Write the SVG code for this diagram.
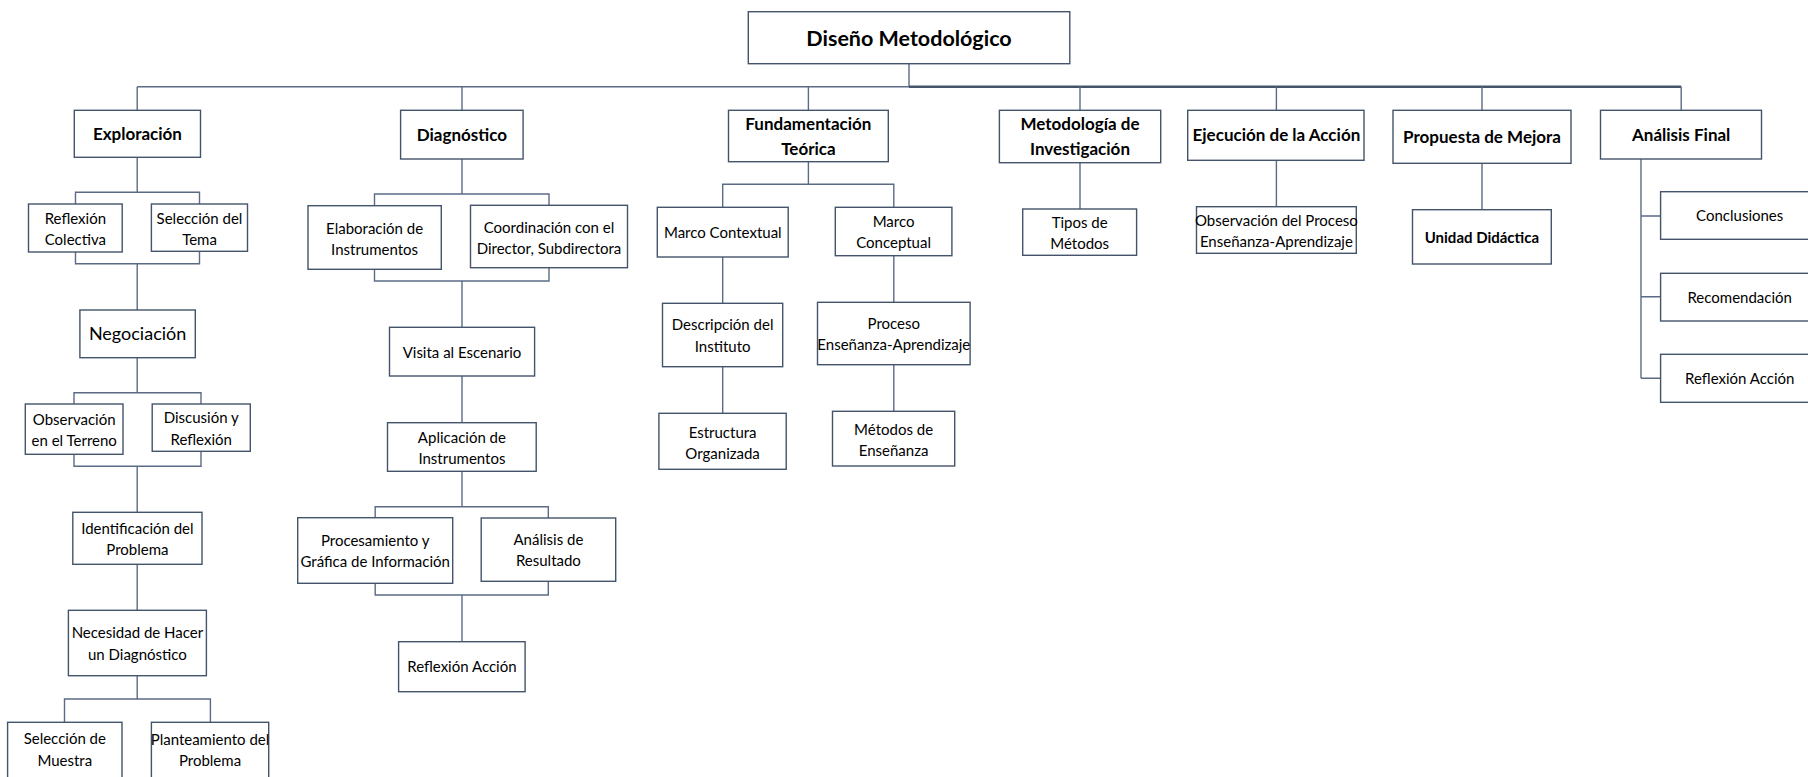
<svg xmlns="http://www.w3.org/2000/svg" width="1808" height="777" viewBox="0 0 1808 777">
<style>
.box{fill:#ffffff;stroke:#44546A;stroke-width:1.4}
.c{fill:none;stroke:#5B6B86;stroke-width:1.4}
.ct{fill:none;stroke:#44546A;stroke-width:2.6}
text{font-family:Lato,"Liberation Sans",sans-serif;fill:#000;text-anchor:middle}
.t{font-size:15px}
.h{font-size:17px;font-weight:bold}
.ti{font-size:21.5px;font-weight:bold}
.n{font-size:18px}
.b{font-size:15px;font-weight:bold}
</style>
<g id="connectors">
<path class="c" d="M909 64V86.7M137.2 86.7H909M137.2 86.7V110M462 86.7V110M808.4 86.7V110"/>
<path class="ct" d="M909 86.7H1681.2"/>
<path class="c" d="M1080 86.7V110M1276.4 86.7V110M1482 86.7V110M1681.2 86.7V110"/>
<path class="c" d="M137.2 157V192.3M75.5 204V192.3H199.5V204M75.5 252V263.7H199.5V251M137.2 263.7V310M137.2 358V392.7M74 404V392.7H201V404M74 454V466.3H201V451M137.2 466.3V512M137.2 564V610M137.2 676V699M64.5 722V699H210.4V722"/>
<path class="c" d="M462 159V194M374.5 205.5V194H549V205.5M374.5 269.5V281H549V267.5M462 281V327M462 376V422.7M462 471.7V506.7M375.2 517.7V506.7H548.3V518M375.2 583.3V595H548.3V581.3M462 595V641.7"/>
<path class="c" d="M808.4 162V184.3M722.7 207.3V184.3H893.8V207.3M722.7 257V303.3M722.7 366.7V413.3M893.8 255.7V302.3M893.8 364.7V411.3"/>
<path class="c" d="M1080 163V209M1276.4 160.3V206.7M1482 163.3V209.7"/>
<path class="c" d="M1641 159V378.3M1641 216H1660.6M1641 296.7H1660.6M1641 378.3H1660.6"/>
</g>
<g id="n-title"><rect class="box" x="748.3" y="11.7" width="321.5" height="52"/><text class="ti" x="909" y="45.5">Diseño Metodológico</text></g>
<g id="n-exploracion"><rect class="box" x="74.3" y="110.3" width="126.2" height="47"/><text class="h" x="137.4" y="140.3">Exploración</text></g>
<g id="n-diagnostico"><rect class="box" x="400.6" y="110.3" width="122.5" height="48.7"/><text class="h" x="461.9" y="140.8">Diagnóstico</text></g>
<g id="n-fundamentacion"><rect class="box" x="728.5" y="110.3" width="159.8" height="51.4"/><text class="h" x="808.4" y="130">Fundamentación</text><text class="h" x="808.4" y="155">Teórica</text></g>
<g id="n-metodologia"><rect class="box" x="999.4" y="110.3" width="161.3" height="52.4"/><text class="h" x="1080" y="130">Metodología de</text><text class="h" x="1080" y="155">Investigación</text></g>
<g id="n-ejecucion"><rect class="box" x="1187.7" y="110.3" width="176.3" height="50"/><text class="h" x="1276.4" y="141">Ejecución de la Acción</text></g>
<g id="n-propuesta"><rect class="box" x="1393" y="110.3" width="178" height="53"/><text class="h" x="1482" y="142.5">Propuesta de Mejora</text></g>
<g id="n-analisis"><rect class="box" x="1600.5" y="110.3" width="161" height="48.7"/><text class="h" x="1681.2" y="140.5">Análisis Final</text></g>

<g id="n-reflexion-colectiva"><rect class="box" x="28.5" y="204" width="93.7" height="48"/><text class="t" x="75.4" y="224">Reflexión</text><text class="t" x="75.4" y="245.3">Colectiva</text></g>
<g id="n-seleccion-tema"><rect class="box" x="151.4" y="204" width="96.1" height="47.3"/><text class="t" x="199.5" y="224">Selección del</text><text class="t" x="199.5" y="245.3">Tema</text></g>
<g id="n-negociacion"><rect class="box" x="79.9" y="310" width="115.4" height="47.7"/><text class="n" x="137.6" y="340">Negociación</text></g>
<g id="n-observacion-terreno"><rect class="box" x="25.3" y="404" width="97.7" height="50.3"/><text class="t" x="74.2" y="424.5">Observación</text><text class="t" x="74.2" y="446">en el Terreno</text></g>
<g id="n-discusion"><rect class="box" x="152.2" y="404" width="98.1" height="47.3"/><text class="t" x="201.2" y="423">Discusión y</text><text class="t" x="201.2" y="444.5">Reflexión</text></g>
<g id="n-identificacion"><rect class="box" x="72.8" y="512.3" width="129.2" height="52"/><text class="t" x="137.4" y="533.5">Identificación del</text><text class="t" x="137.4" y="555">Problema</text></g>
<g id="n-necesidad"><rect class="box" x="68.4" y="610.3" width="138" height="65.4"/><text class="t" x="137.4" y="638">Necesidad de Hacer</text><text class="t" x="137.4" y="659.5">un Diagnóstico</text></g>
<g id="n-seleccion-muestra"><rect class="box" x="7.6" y="722.3" width="114.4" height="60"/><text class="t" x="64.8" y="744">Selección de</text><text class="t" x="64.8" y="765.5">Muestra</text></g>
<g id="n-planteamiento"><rect class="box" x="151.4" y="722.3" width="117.3" height="60"/><text class="t" x="210" y="744.5">Planteamiento del</text><text class="t" x="210" y="766">Problema</text></g>

<g id="n-elaboracion"><rect class="box" x="308" y="205.7" width="133.3" height="63.6"/><text class="t" x="374.6" y="233.5">Elaboración de</text><text class="t" x="374.6" y="255">Instrumentos</text></g>
<g id="n-coordinacion"><rect class="box" x="470.5" y="205.3" width="157" height="62.4"/><text class="t" x="549" y="232.5">Coordinación con el</text><text class="t" x="549" y="254">Director, Subdirectora</text></g>
<g id="n-visita"><rect class="box" x="389.5" y="327.3" width="145.1" height="48.7"/><text class="t" x="462" y="357.5">Visita al Escenario</text></g>
<g id="n-aplicacion"><rect class="box" x="387.5" y="422.7" width="148.7" height="48.6"/><text class="t" x="461.9" y="442.5">Aplicación de</text><text class="t" x="461.9" y="464">Instrumentos</text></g>
<g id="n-procesamiento"><rect class="box" x="297.7" y="517.7" width="155" height="65.6"/><text class="t" x="375.2" y="545.5">Procesamiento y</text><text class="t" x="375.2" y="567">Gráfica de Información</text></g>
<g id="n-analisis-resultado"><rect class="box" x="481.2" y="518" width="134.5" height="63.3"/><text class="t" x="548.4" y="544.5">Análisis de</text><text class="t" x="548.4" y="566">Resultado</text></g>
<g id="n-reflexion-accion-d"><rect class="box" x="398.6" y="641.7" width="126.5" height="50"/><text class="t" x="461.9" y="671.5">Reflexión Acción</text></g>

<g id="n-marco-contextual"><rect class="box" x="657.3" y="207.3" width="130.9" height="49.7"/><text class="t" x="722.8" y="238">Marco Contextual</text></g>
<g id="n-marco-conceptual"><rect class="box" x="835.3" y="207.3" width="116.6" height="48.4"/><text class="t" x="893.6" y="226.5">Marco</text><text class="t" x="893.6" y="248">Conceptual</text></g>
<g id="n-descripcion"><rect class="box" x="662.5" y="303.3" width="120.2" height="63.4"/><text class="t" x="722.6" y="330">Descripción del</text><text class="t" x="722.6" y="351.5">Instituto</text></g>
<g id="n-estructura"><rect class="box" x="658.9" y="413.3" width="127.3" height="56"/><text class="t" x="722.6" y="437.5">Estructura</text><text class="t" x="722.6" y="459">Organizada</text></g>
<g id="n-proceso"><rect class="box" x="817.5" y="302.3" width="152.6" height="62.4"/><text class="t" x="893.8" y="328.5">Proceso</text><text class="t" x="893.8" y="350">Enseñanza-Aprendizaje</text></g>
<g id="n-metodos-ensenanza"><rect class="box" x="832.5" y="411.3" width="122.2" height="54.7"/><text class="t" x="893.6" y="434.5">Métodos de</text><text class="t" x="893.6" y="456">Enseñanza</text></g>

<g id="n-tipos"><rect class="box" x="1022.7" y="209" width="113.9" height="46.3"/><text class="t" x="1079.7" y="227.5">Tipos de</text><text class="t" x="1079.7" y="249">Métodos</text></g>
<g id="n-observacion-proceso"><rect class="box" x="1196.5" y="206.7" width="159.8" height="46.6"/><text class="t" x="1276.4" y="225.5">Observación del Proceso</text><text class="t" x="1276.4" y="247">Enseñanza-Aprendizaje</text></g>
<g id="n-unidad"><rect class="box" x="1412.5" y="209.7" width="138.8" height="54.3"/><text class="b" x="1481.9" y="242.5">Unidad Didáctica</text></g>

<g id="n-conclusiones"><rect class="box" x="1660.6" y="191.7" width="158.2" height="47.6"/><text class="t" x="1739.7" y="221">Conclusiones</text></g>
<g id="n-recomendacion"><rect class="box" x="1660.6" y="273.3" width="158.2" height="47.7"/><text class="t" x="1739.7" y="302.5">Recomendación</text></g>
<g id="n-reflexion-accion-f"><rect class="box" x="1660.6" y="354.3" width="158.2" height="48"/><text class="t" x="1739.7" y="383.5">Reflexión Acción</text></g>
</svg>
